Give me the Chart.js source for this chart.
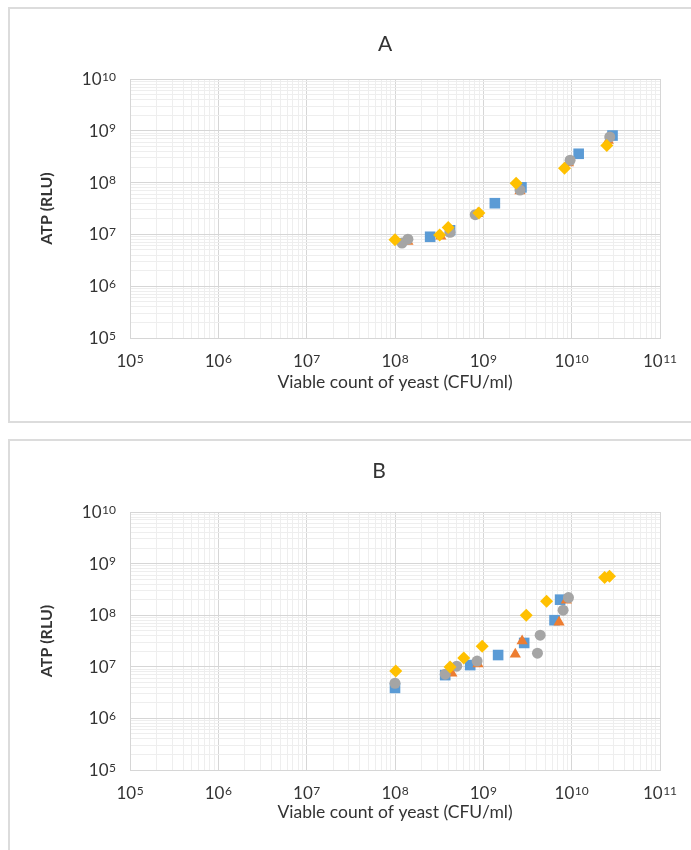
<!DOCTYPE html>
<html>
<head>
<meta charset="utf-8">
<script src="https://cdn.jsdelivr.net/npm/chart.js@4"></script>
<style>
  body { margin: 0; background: #fff; width: 691px; height: 850px; overflow: hidden; position: relative; }
  .panel { position: absolute; left: 8px; width: 720px; border: 2px solid #dcdcdc; box-sizing: border-box; }
  #boxA { top: 7px; height: 416px; }
  #boxB { top: 439px; height: 440px; }
  .wrap { position: absolute; left: 0; width: 691px; height: 425px; }
  #wrapA { top: 0; }
  #wrapB { top: 425px; }
</style>
</head>
<body>
<div class="panel" id="boxA"></div>
<div class="panel" id="boxB"></div>
<div class="wrap" id="wrapA"><canvas id="chartA"></canvas></div>
<div class="wrap" id="wrapB"><canvas id="chartB"></canvas></div>
<script>
// tick labels: base and exponent, one per decade
const xTickLabels = [['10', '5'], ['10', '6'], ['10', '7'], ['10', '8'], ['10', '9'], ['10', '10'], ['10', '11']];
const yTickLabels = [['10', '5'], ['10', '6'], ['10', '7'], ['10', '8'], ['10', '9'], ['10', '10']];
const xTitle = 'Viable count of yeast (CFU/ml)';
const yTitle = 'ATP (RLU)';

// Panel A
const aBlueX = [2.5e8, 4.2e8, 1.35e9, 2.7e9, 1.2e10, 2.9e10];
const aBlueY = [9.0e6, 1.2e7, 4.0e7, 8.1e7, 3.6e8, 8.1e8];
const aOrangeX = [1.4e8, 3.3e8, 8.6e8, 2.6e9, 9.2e9, 2.6e10];
const aOrangeY = [7.3e6, 9.2e6, 2.5e7, 6.9e7, 2.4e8, 6.5e8];
const aGreyX = [1.2e8, 1.4e8, 4.2e8, 8.1e8, 2.6e9, 9.6e9, 2.7e10];
const aGreyY = [6.8e6, 8.1e6, 1.1e7, 2.4e7, 7.2e7, 2.7e8, 7.6e8];
const aYellowX = [1.0e8, 3.2e8, 4.0e8, 8.9e8, 2.35e9, 8.3e9, 2.5e10];
const aYellowY = [7.9e6, 9.7e6, 1.36e7, 2.6e7, 9.7e7, 1.9e8, 5.2e8];

// Panel B
const bBlueX = [1.0e8, 3.7e8, 7.1e8, 1.47e9, 2.9e9, 6.4e9, 7.4e9];
const bBlueY = [3.9e6, 6.9e6, 1.08e7, 1.69e7, 2.9e7, 8.0e7, 2.0e8];
const bOrangeX = [4.4e8, 8.7e8, 2.3e9, 2.75e9, 7.2e9, 8.7e9];
const bOrangeY = [7.5e6, 1.13e7, 1.76e7, 3.15e7, 7.3e7, 1.95e8];
const bGreyX = [1.0e8, 3.7e8, 5.0e8, 8.5e8, 4.1e9, 4.4e9, 8.0e9, 9.2e9];
const bGreyY = [4.8e6, 7.2e6, 1.03e7, 1.29e7, 1.84e7, 4.1e7, 1.25e8, 2.2e8];
const bYellowX = [1.02e8, 4.2e8, 6.0e8, 9.7e8, 3.06e9, 5.2e9, 2.36e10, 2.68e10];
const bYellowY = [8.3e6, 9.9e6, 1.48e7, 2.5e7, 1.0e8, 1.87e8, 5.4e8, 5.7e8];

const FONT = "Lato, 'Open Sans', sans-serif";
const TEXT = '#333333';

function pts(xs, ys) {
    return xs.map(function (x, i) { return { x: x, y: ys[i] }; });
}

// gridline values: 1..9 x 10^e for every decade
function gridValues(minExp, maxExp) {
    const vals = [];
    for (let e = minExp; e < maxExp; e++) {
        for (let m = 1; m <= 9; m++) vals.push(m * Math.pow(10, e));
    }
    vals.push(Math.pow(10, maxExp));
    return vals;
}

function isPower(v) {
    const e = Math.round(Math.log10(v));
    return Math.abs(v - Math.pow(10, e)) < v * 1e-6;
}

const panelTitle = {
    id: 'panelTitle',
    afterDraw(chart, args, opts) {
        const ctx = chart.ctx;
        const a = chart.chartArea;
        ctx.save();
        ctx.font = '21px ' + FONT;
        ctx.fillStyle = TEXT;
        ctx.textAlign = 'center';
        ctx.textBaseline = 'middle';
        ctx.fillText(opts.text, (a.left + a.right) / 2 + opts.dx, opts.y);
        ctx.restore();
    }
};

// "10" with a raised exponent at every decade of both axes
const powerLabels = {
    id: 'powerLabels',
    afterDraw(chart) {
        const ctx = chart.ctx;
        const baseFont = '17px ' + FONT;
        const expFont = '12px ' + FONT;
        ctx.save();
        ctx.fillStyle = TEXT;
        ctx.textBaseline = 'alphabetic';
        ctx.textAlign = 'left';
        function draw(lbl, left, baseline) {
            ctx.font = baseFont;
            ctx.fillText(lbl[0], left, baseline);
            const w = ctx.measureText(lbl[0]).width;
            ctx.font = expFont;
            ctx.fillText(lbl[1], left + w + 0.5, baseline - 4.5);
        }
        function width(lbl) {
            ctx.font = baseFont;
            const w = ctx.measureText(lbl[0]).width;
            ctx.font = expFont;
            return w + 0.5 + ctx.measureText(lbl[1]).width;
        }
        const xs = chart.scales.x;
        xTickLabels.forEach(function (lbl, i) {
            const px = xs.getPixelForValue(Math.pow(10, 5 + i));
            draw(lbl, px - width(lbl) / 2, xs.top + 29);
        });
        const ys = chart.scales.y;
        yTickLabels.forEach(function (lbl, i) {
            const py = ys.getPixelForValue(Math.pow(10, 5 + i));
            draw(lbl, ys.right - 14 - width(lbl), py + 6);
        });
        ctx.restore();
    }
};

function logAxis(minExp, maxExp, extra) {
    return Object.assign({
        type: 'logarithmic',
        min: Math.pow(10, minExp),
        max: Math.pow(10, maxExp),
        afterBuildTicks: function (scale) {
            scale.ticks = gridValues(minExp, maxExp).map(function (v) { return { value: v }; });
        },
        ticks: { display: false, autoSkip: false },
        grid: {
            drawTicks: false,
            color: function (ctx) {
                return ctx.tick && isPower(ctx.tick.value) ? '#d6d6d6' : '#eeeeee';
            }
        },
        border: { color: '#d6d6d6' }
    }, extra);
}

function makeChart(id, titleText, titleDx, titleY, top, xAxisHeight, xTitlePad, blue, orange, grey, yellow) {
    new Chart(document.getElementById(id), {
        type: 'scatter',
        data: {
            datasets: [
                { label: 'Series 1', data: blue, order: 4, pointStyle: 'rect', pointRadius: 7.5,
                  backgroundColor: '#5b9bd5', borderColor: '#5b9bd5', borderWidth: 0 },
                { label: 'Series 2', data: orange, order: 3, pointStyle: 'triangle', pointRadius: 6.5,
                  backgroundColor: '#ed7d31', borderColor: '#ed7d31', borderWidth: 0 },
                { label: 'Series 3', data: grey, order: 2, pointStyle: 'circle', pointRadius: 5.5,
                  backgroundColor: '#a5a5a5', borderColor: '#a5a5a5', borderWidth: 0 },
                { label: 'Series 4', data: yellow, order: 1, pointStyle: 'rectRot', pointRadius: 6.5,
                  backgroundColor: '#ffc000', borderColor: '#ffc000', borderWidth: 0 }
            ]
        },
        options: {
            responsive: true,
            maintainAspectRatio: false,
            animation: false,
            layout: { padding: { top: top, left: 37, right: 31, bottom: 0 } },
            plugins: {
                legend: { display: false },
                tooltip: { enabled: false },
                panelTitle: { text: titleText, dx: titleDx, y: titleY }
            },
            scales: {
                x: logAxis(5, 11, {
                    afterFit: function (scale) { scale.height = xAxisHeight; },
                    title: { display: true, text: xTitle, color: TEXT,
                             font: { family: FONT, size: 17.5 }, padding: { top: 0, bottom: xTitlePad } }
                }),
                y: logAxis(5, 10, {
                    afterFit: function (scale) { scale.width = 93; },
                    title: { display: true, text: yTitle, color: TEXT,
                             font: { family: FONT, size: 16, weight: 'bold' }, padding: { top: 0, bottom: 0 } }
                })
            }
        },
        plugins: [panelTitle, powerLabels]
    });
}

makeChart('chartA', 'A', -10, 44, 79, 87, 32,
    pts(aBlueX, aBlueY), pts(aOrangeX, aOrangeY), pts(aGreyX, aGreyY), pts(aYellowX, aYellowY));
makeChart('chartB', 'B', -16, 46, 87, 80, 27,
    pts(bBlueX, bBlueY), pts(bOrangeX, bOrangeY), pts(bGreyX, bGreyY), pts(bYellowX, bYellowY));
</script>
</body>
</html>
